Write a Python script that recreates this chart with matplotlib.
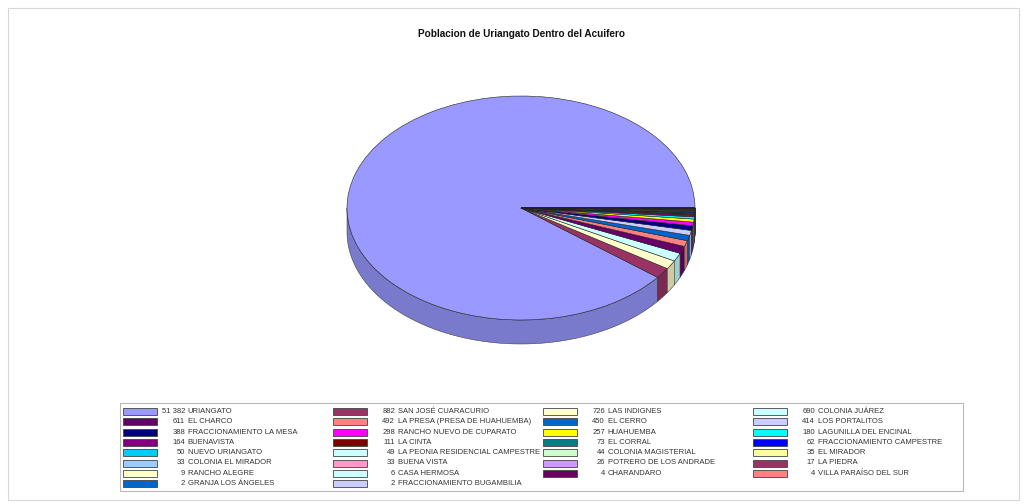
import matplotlib
matplotlib.use("Agg")
import matplotlib.pyplot as plt
from matplotlib.patches import Rectangle, Polygon
import matplotlib.colors as mcolors
import numpy as np

plt.rcParams['font.family'] = ['Liberation Sans', 'DejaVu Sans']

# Population by locality
localities = [
    "URIANGATO", "SAN JOSÉ CUARACURIO", "LAS INDIGNES", "COLONIA JUÁREZ",
    "EL CHARCO", "LA PRESA (PRESA DE HUAHUEMBA)", "EL CERRO", "LOS PORTALITOS",
    "FRACCIONAMIENTO LA MESA", "RANCHO NUEVO DE CUPARATO", "HUAHUEMBA", "LAGUNILLA DEL ENCINAL",
    "BUENAVISTA", "LA CINTA", "EL CORRAL", "FRACCIONAMIENTO CAMPESTRE",
    "NUEVO URIANGATO", "LA PEONIA RESIDENCIAL CAMPESTRE", "COLONIA MAGISTERIAL", "EL MIRADOR",
    "COLONIA EL MIRADOR", "BUENA VISTA", "POTRERO DE LOS ANDRADE", "LA PIEDRA",
    "RANCHO ALEGRE", "CASA HERMOSA", "CHARANDARO", "VILLA PARAÍSO DEL SUR",
    "GRANJA LOS ÁNGELES", "FRACCIONAMIENTO BUGAMBILIA",
]
population = [
    51382, 882, 726, 690,
    611, 492, 450, 414,
    388, 298, 257, 180,
    164, 111, 73, 62,
    50, 49, 44, 35,
    33, 33, 26, 17,
    9, 6, 4, 4,
    2, 2,
]
slice_colors = [
    "#9999FF", "#993366", "#FFFFCC", "#CCFFFF",
    "#660066", "#FF8080", "#0066CC", "#CCCCFF",
    "#000080", "#FF00FF", "#FFFF00", "#00FFFF",
    "#800080", "#800000", "#008080", "#0000FF",
    "#00CCFF", "#CCFFFF", "#CCFFCC", "#FFFF99",
    "#99CCFF", "#FF99CC", "#CC99FF", "#993366",
    "#FFFFCC", "#CCFFFF", "#660066", "#FF8080",
    "#0066CC", "#CCCCFF",
]
title = "Poblacion de Uriangato Dentro del Acuifero"

W, H = 1026, 504
fig = plt.figure(figsize=(W / 100, H / 100), dpi=100)
fig.patch.set_facecolor("white")

def fx(px):
    return px / W

def fy(py):
    return 1 - py / H

# outer chart border
fig.patches.append(Rectangle((fx(8), fy(500)), fx(1019) - fx(8), fy(8) - fy(500),
                             transform=fig.transFigure, fill=False,
                             edgecolor="#d8d8d8", linewidth=0.8))

fig.text(fx(521), fy(34), title, ha="center", va="center",
         fontsize=7.2, fontweight="bold", color="#111111")

# pie top surface occupies this pixel box; side wall hangs below it
cx, cy, rx, ry, depth = 521, 208, 174, 112, 24
ax = fig.add_axes([fx(cx - rx), fy(cy + ry), 2 * rx / W, 2 * ry / H])
ax.set_axis_off()

wedges, _ = ax.pie(population, colors=slice_colors, startangle=0, counterclock=True,
                   wedgeprops=dict(edgecolor="#222222", linewidth=0.4))
ax.set_aspect("auto")
ax.set_xlim(-1, 1)
ax.set_ylim(-1, 1)
for w in wedges:
    w.set_zorder(3)

# side wall of the visible front half
t = depth / ry
for w, col in zip(wedges, slice_colors):
    a1, a2 = w.theta1, w.theta2
    lo, hi = max(a1, 180), min(a2, 360)
    if hi <= lo:
        continue
    th = np.radians(np.linspace(lo, hi, 200))
    top = np.column_stack([np.cos(th), np.sin(th)])
    bot = top[::-1] - [0, t]
    dark = np.array(mcolors.to_rgb(col)) * 0.8
    poly = Polygon(np.vstack([top, bot]), closed=True, facecolor=dark,
                   edgecolor="#333333", linewidth=0.35, clip_on=False, zorder=2)
    ax.add_patch(poly)

# legend, filled row by row in four columns
lx0, ly0, lx1, ly1 = 120, 403, 963, 491
fig.patches.append(Rectangle((fx(lx0), fy(ly1)), fx(lx1) - fx(lx0), fy(ly0) - fy(ly1),
                             transform=fig.transFigure, facecolor="white",
                             edgecolor="#b8b8b8", linewidth=0.8))
col_x = [123, 333, 543, 753]
row_y0, row_pitch = 411.5, 10.3
sw_w, sw_h = 34, 7
for i, (name, val, col) in enumerate(zip(localities, population, slice_colors)):
    r, c = divmod(i, 4)
    x = col_x[c]
    y = row_y0 + r * row_pitch
    fig.patches.append(Rectangle((fx(x), fy(y + sw_h / 2)), sw_w / W, sw_h / H,
                                 transform=fig.transFigure, facecolor=col,
                                 edgecolor="#444444", linewidth=0.6))
    num = f"{val:,}".replace(",", " ")
    xn = x + sw_w + 28
    fig.text(fx(xn), fy(y), num, ha="right", va="center", fontsize=5.5, color="#333333")
    fig.text(fx(xn + 2.5), fy(y), name, ha="left", va="center", fontsize=5.5, color="#333333")

fig.savefig("out.png", dpi=100, facecolor="white")
